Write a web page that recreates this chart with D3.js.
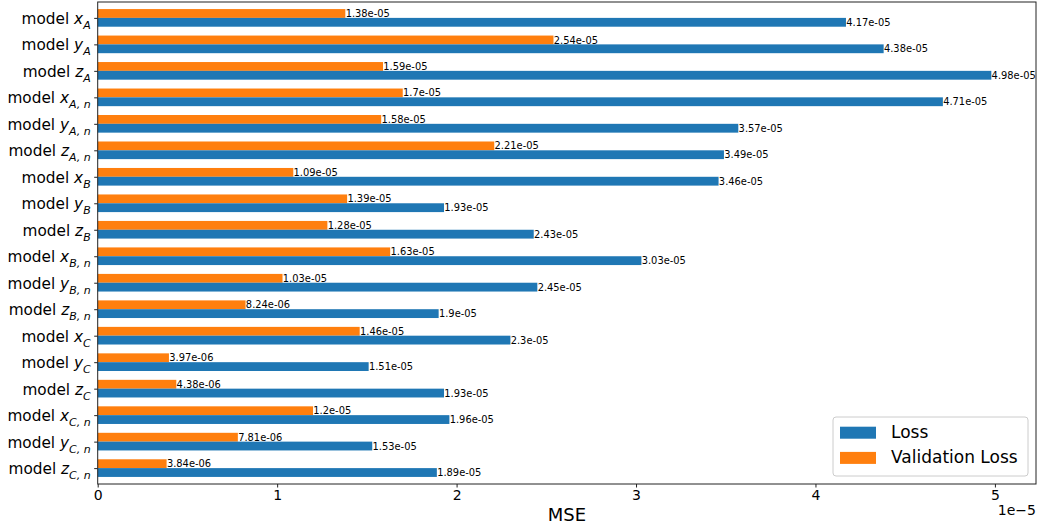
<!DOCTYPE html>
<html><head><meta charset="utf-8">
<script src="https://cdn.jsdelivr.net/npm/d3@7"></script>
<style>body{margin:0;background:#fff;} text{font-family:"DejaVu Sans",sans-serif;}</style>
</head><body>
<svg id="c" width="1038" height="529"></svg>
<script>
const categories = ["x_A","y_A","z_A","x_A, n","y_A, n","z_A, n","x_B","y_B","z_B","x_B, n","y_B, n","z_B, n","x_C","y_C","z_C","x_C, n","y_C, n","z_C, n"];
const lossValues = [4.17e-5,4.38e-5,4.98e-5,4.71e-5,3.57e-5,3.49e-5,3.46e-5,1.93e-5,2.43e-5,3.03e-5,2.45e-5,1.9e-5,2.3e-5,1.51e-5,1.93e-5,1.96e-5,1.53e-5,1.89e-5];
const valLossValues = [1.38e-5,2.54e-5,1.59e-5,1.7e-5,1.58e-5,2.21e-5,1.09e-5,1.39e-5,1.28e-5,1.63e-5,1.03e-5,8.24e-6,1.46e-5,3.97e-6,4.38e-6,1.2e-5,7.81e-6,3.84e-6];
const xTicks = [0,1e-5,2e-5,3e-5,4e-5,5e-5];
const seriesNames = ["Loss","Validation Loss"];
const colors = ["#1f77b4","#ff7f0e"];

const L=97.7, R=1036, T=2, B=484;
const svg = d3.select("#c");
const x = d3.scaleLinear().domain([0, 4.98e-5*1.05]).range([L,R]);
const y = d3.scaleLinear().domain([-0.6, 17.6]).range([T,B]);
const h = 0.333;

function fmtG(v){
  let s = v.toExponential(2);
  let [m,e] = s.split("e");
  if (m.indexOf(".")>=0) m = m.replace(/0+$/,"").replace(/\.$/,"");
  let sign = e[0]==="-"?"-":"+";
  let d = e.replace(/^[+-]/,"");
  if (d.length<2) d="0"+d;
  return m+"e"+sign+d;
}

const idx = categories.map((c,i)=>i);
svg.append("g").selectAll("rect").data(idx).join("rect")
  .attr("x", x(0)).attr("y", i=>y(i-h)).attr("width", i=>x(valLossValues[i])-x(0))
  .attr("height", y(h)-y(0)).attr("fill", colors[1]);
svg.append("g").selectAll("rect").data(idx).join("rect")
  .attr("x", x(0)).attr("y", i=>y(i)).attr("width", i=>x(lossValues[i])-x(0))
  .attr("height", y(h)-y(0)).attr("fill", colors[0]);

svg.append("g").selectAll("text").data(idx).join("text")
  .attr("x", i=>x(valLossValues[i])+0.3).attr("y", i=>y(i-h/2)).attr("dy","0.36em")
  .attr("font-size","9.9px").attr("fill","#000").text(i=>fmtG(valLossValues[i]));
svg.append("g").selectAll("text").data(idx).join("text")
  .attr("x", i=>x(lossValues[i])+0.3).attr("y", i=>y(i+h/2)).attr("dy","0.36em")
  .attr("font-size","9.9px").attr("fill","#000").text(i=>fmtG(lossValues[i]));

svg.append("rect").attr("x",L).attr("y",T).attr("width",R-L).attr("height",B-T)
  .attr("fill","none").attr("stroke","#222").attr("stroke-width",1);

const xa = svg.append("g").attr("transform",`translate(0,${B})`)
  .call(d3.axisBottom(x).tickValues(xTicks).tickSize(3.5).tickPadding(3).tickFormat(v=>String(Math.round(v/1e-5))));
xa.select(".domain").remove();
xa.selectAll("text").attr("font-size","14px").attr("fill","#000").style("font-family","DejaVu Sans");
xa.selectAll("line").attr("stroke","#222");

const ya = svg.append("g").attr("transform",`translate(${L},0)`)
  .call(d3.axisLeft(y).tickValues(idx).tickSize(3.5).tickFormat(""));
ya.select(".domain").remove();
ya.selectAll("line").attr("stroke","#222");

const lab = svg.append("g").selectAll("text").data(idx).join("text")
  .attr("x", L-7).attr("y", i=>y(i)+6).attr("text-anchor","end")
  .attr("font-size","15.3px").attr("fill","#000");
lab.each(function(i){
  const t = d3.select(this);
  const [v, sub] = categories[i].split("_");
  t.append("tspan").text("model ");
  t.append("tspan").attr("font-style","italic").text(v);
  t.append("tspan").attr("font-style","italic").attr("font-size","11px").attr("dy",5).text(sub);
});

svg.append("text").attr("x",(L+R)/2).attr("y",520.5).attr("text-anchor","middle")
  .attr("font-size","18px").attr("fill","#000").text("MSE");
svg.append("text").attr("x",R).attr("y",515).attr("text-anchor","end")
  .attr("font-size","14px").attr("fill","#000").text("1e\u22125");

const lg = svg.append("g");
lg.append("rect").attr("x",833).attr("y",417).attr("width",195).attr("height",59).attr("rx",3)
  .attr("fill","#fff").attr("fill-opacity",0.8).attr("stroke","#ccc");
seriesNames.forEach((n,k)=>{
  const yy = 426.7 + k*25.2;
  lg.append("rect").attr("x",840).attr("y",yy).attr("width",36).attr("height",12).attr("fill",colors[k]);
  lg.append("text").attr("x",891).attr("y",yy+11.5).attr("font-size","17px").attr("fill","#000").text(n);
});
</script>
</body></html>
